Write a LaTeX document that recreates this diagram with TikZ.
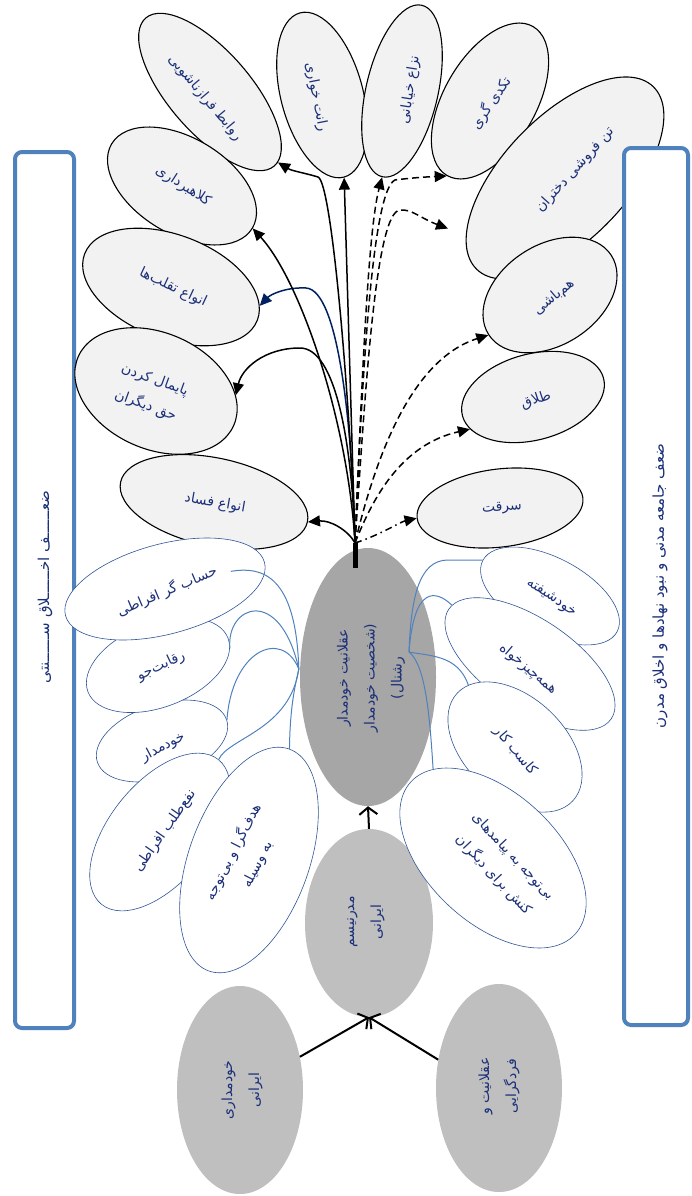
\documentclass[tikz,border=0pt]{standalone}
\usepackage{fontspec}
\usetikzlibrary{shapes.geometric,arrows.meta,calc}
\TeXXeTstate=1
\newfontfamily\farsifont[Script=Arabic]{DejaVu Sans}
\newcommand\fa[1]{\beginR #1\endR}
\newcommand\kk{^^^^0640^^^^0640^^^^0640^^^^0640^^^^0640^^^^0640}
\definecolor{navy}{HTML}{1A2F78}
\definecolor{navyline}{HTML}{002060}
\definecolor{boxblue}{HTML}{4F81BD}
\definecolor{edgeblue}{HTML}{2F5597}
\definecolor{lightfill}{HTML}{F2F2F2}
\definecolor{gA}{HTML}{A6A6A6}
\definecolor{gB}{HTML}{BFBFBF}
\tikzset{
 topell/.style={ellipse, draw=black, line width=1.1pt, fill=lightfill, inner sep=0pt},
 whiteell/.style={ellipse, draw=edgeblue, line width=0.6pt, fill=white, inner sep=0pt},
 grayell/.style={ellipse, fill=#1, inner sep=0pt},
 txt/.style={text=navy, font=\farsifont\fontsize{14}{27}\selectfont, align=center, inner sep=0pt},
 boxtxt/.style={txt, font=\farsifont\fontsize{15}{20}\selectfont},
 arr/.style={line width=1.5pt, -{Triangle[length=12pt,width=11pt]}},
 darr/.style={arr, dash pattern=on 7pt off 4pt},
 ddarr/.style={arr, dash pattern=on 7pt off 4pt on 1.5pt off 4pt},
 link/.style={draw=boxblue, line width=1pt},
 barb/.style={line width=2pt, -{Straight Barb[length=7pt,width=18pt]}},
 sidebox/.style={draw=boxblue, line width=4pt, rounded corners=7pt, fill=white}
}
\newcommand\ovalnode[9]{%
  \node[#6, minimum width=#4, minimum height=#5, rotate=#3] (#1) at (#2) {};
  \node[txt, rotate=#8] (#1-t) at (#7) {#9};}
\begin{document}
\begin{tikzpicture}[x=1pt,y=-1pt]
\useasboundingbox (0,0) rectangle (691,1196);
% left box
\node[sidebox, minimum width=59pt, minimum height=876pt] (lbox) at (44.5,590) {};
\node[boxtxt, rotate=90] (lbox-t) at (45,587) {\fa{ضع\kk ف اخ\kk لاق س\kk نتی}};
% top ellipses
\ovalnode{rav}{210,92}{-49}{196pt}{82pt}{topell}{205,98}{-50}{\fa{روابط فرازناشویی}}
\ovalnode{kolah}{182,186}{-31}{164pt}{96pt}{topell}{183,186}{-33}{\fa{کلاهبرداری}}
\ovalnode{rant}{322,95}{-75}{170pt}{82pt}{topell}{316,97}{-79}{\fa{رانت خواری}}
\ovalnode{nezaa}{402,91}{77}{176pt}{72pt}{topell}{410,90}{81}{\fa{نزاع خیابانی}}
\ovalnode{takaddi}{490,101}{60}{172pt}{92pt}{topell}{491,103}{56}{\fa{تکدی گری}}
\ovalnode{tan}{565,178}{46}{254pt}{124pt}{topell}{575,170}{48}{\fa{تن فروشی دختران}}
\ovalnode{taqallob}{171,287}{-21}{185pt}{104pt}{topell}{173,288}{-25}{\fa{انواع تقلب^^^^200cها}}
\ovalnode{payemal}{156,391}{-24}{170pt}{116pt}{topell}{150,393}{-20}{\fa{پایمال کردن}\\\fa{حق دیگران}}
\ovalnode{fasad}{214,502}{-12}{191pt}{88pt}{topell}{215,503}{-10}{\fa{انواع فساد}}
\ovalnode{hambashi}{550,295}{33}{146pt}{100pt}{topell}{554,297}{40}{\fa{هم^^^^200cباشی}}
\ovalnode{talagh}{533,397}{15}{146pt}{86pt}{topell}{536,400}{18}{\fa{طلاق}}
\ovalnode{serghat}{500,508}{7}{167pt}{78pt}{topell}{502,508}{5}{\fa{سرقت}}
% right box
\node[sidebox, minimum width=64pt, minimum height=877pt] (rbox) at (656,586.5) {};
\node[boxtxt, rotate=90] (rbox-t) at (660,586) {\fa{ضعف جامعه مدنی و نبود نهادها و اخلاق مدرن}};
% central gray ellipses
\ovalnode{aghl}{368,677}{90}{258pt}{136pt}{grayell=gA}{371,678}{90}{\fa{عقلانیت خودمدار}\\\fa{(شخصیت خودمدار}\\\fa{رشنال)}}
\ovalnode{modern}{369,923}{90}{188pt}{128pt}{grayell=gB}{366,922}{90}{\fa{مدرنیسم}\\\fa{ایرانی}}
\ovalnode{khodmadari}{240,1090}{90}{208pt}{126pt}{grayell=gB}{242,1090}{90}{\fa{خودمداری}\\\fa{ایرانی}}
\ovalnode{fard}{499,1088}{90}{208pt}{126pt}{grayell=gB}{499,1086}{90}{\fa{عقلانیت و}\\\fa{فردگرایی}}
% left white ellipses
\ovalnode{khodmadar}{162,741}{18}{136pt}{74pt}{whiteell}{163,747}{28}{\fa{خودمدار}}
\ovalnode{reghabat}{158,665}{21}{150pt}{84pt}{whiteell}{161,666}{25}{\fa{رقابت^^^^200cجو}}
\ovalnode{hesab}{165,589}{15}{206pt}{90pt}{whiteell}{167,591}{23}{\fa{حساب گر افراطی}}
\ovalnode{naf}{160,832}{51}{186pt}{100pt}{whiteell}{165,831}{55}{\fa{نفع^^^^200cطلب افراطی}}
\ovalnode{hadaf}{249,860}{70}{236pt}{120pt}{whiteell}{245,858}{63}{\fa{هدف^^^^200cگرا و بی^^^^200cتوجه}\\\fa{به وسیله}}
% right white ellipses
\ovalnode{khodshifte}{550,596}{-28}{152pt}{76pt}{whiteell}{551,598}{-34}{\fa{خودشیفته}}
\ovalnode{hamechiz}{530,664}{-34}{196pt}{90pt}{whiteell}{528,669}{-40}{\fa{همه^^^^200cچیزخواه}}
\ovalnode{kaseb}{515,747}{-43}{158pt}{100pt}{whiteell}{515,751}{-50}{\fa{کاسب کار}}
\ovalnode{bitavajoh}{493,858}{-43}{224pt}{130pt}{whiteell}{503,866}{-47}{\fa{بی^^^^200cتوجه به پیامدهای}\\\fa{کنش برای دیگران}}
% hubs
\coordinate (hub) at (355,543);
\coordinate (lh) at ($(aghl.north)+(-1,-8)$);
\coordinate (rh) at ($(aghl.center)+(41,-25)$);
% blue links
\draw[link] ($(hesab.center)!0.66!(hesab.east)$) .. controls (262,566) and (296,575) .. (lh);
\draw[link] (reghabat.-8) .. controls (226,605) and (280,585) .. (lh);
\draw[link] (khodmadar.east) .. controls (232,650) and (282,628) .. (lh);
\draw[link] (naf.east) .. controls (228,738) and (290,730) .. (lh);
\draw[link] (hadaf.east) .. controls (290,710) and (294,690) .. (lh);
\draw[link] (khodshifte.west) -- (448,560) .. controls (418,560) and (411,600) .. (rh);
\draw[link] (hamechiz.177) .. controls (436,590) and (414,585) .. (rh);
\draw[link] (kaseb.170) .. controls (458,655) and (430,656) .. (rh);
\draw[link] (bitavajoh.167) .. controls (430,720) and (426,665) .. (rh);
% stub and arrows
\draw[line width=5pt] (hub) -- ($(hub)+(0,25)$);
\draw[arr] (hub) .. controls (348,530) and (330,520) .. (fasad.east);
\draw[arr] (hub) .. controls (352,440) and (335,348) .. (300,348) .. controls (265,348) and (242,368) .. (payemal.21);
\draw[arr, draw=navyline] (hub) .. controls (352,420) and (338,290) .. (306,288) .. controls (285,287) and (270,295) .. (taqallob.9);
\draw[arr] (hub) .. controls (348,420) and (300,280) .. (kolah.east);
\draw[arr] (hub) .. controls (350,400) and (332,182) .. (318,177) .. controls (305,173) and (292,171) .. (rav.3);
\draw[arr] (hub) -- (rant.east);
\draw[darr] (hub) .. controls (362,380) and (368,230) .. (nezaa.west);
\draw[darr] (hub) .. controls (362,380) and (372,190) .. (395,180) .. controls (410,178) and (425,177) .. (takaddi.west);
\draw[darr, shorten >=19pt] (hub) .. controls (366,380) and (376,212) .. (400,210) .. controls (412,209) and (420,218) .. (tan.164);
\draw[darr] (hub) .. controls (375,460) and (410,360) .. (hambashi.west);
\draw[darr] (hub) .. controls (372,500) and (400,445) .. (talagh.192);
\draw[ddarr] (hub) .. controls (380,535) and (400,522) .. (serghat.west);
% bottom arrows
\draw[barb] (khodmadari.-61) -- (modern.west);
\draw[barb] (fard.65) -- (modern.west);
\draw[barb] (modern.east) -- (aghl.west);
\end{tikzpicture}
\end{document}
